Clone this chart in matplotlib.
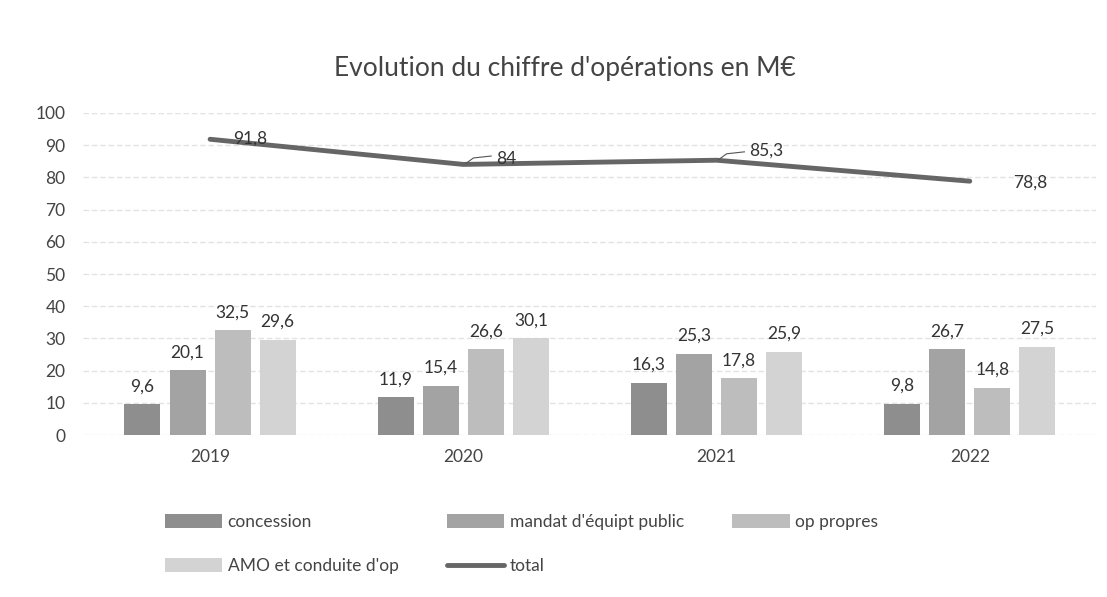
import matplotlib.pyplot as plt
import numpy as np

plt.rcParams['font.family'] = ['Lato', 'DejaVu Sans']

# Données (M€)
years = ['2019', '2020', '2021', '2022']
concession = [9.6, 11.9, 16.3, 9.8]
mandat = [20.1, 15.4, 25.3, 26.7]
op_propres = [32.5, 26.6, 17.8, 14.8]
amo = [29.6, 30.1, 25.9, 27.5]
total = [91.8, 84, 85.3, 78.8]

series = [
    ('concession', concession, '#8e8e8e'),
    ("mandat d'équipt public", mandat, '#a3a3a3'),
    ('op propres', op_propres, '#bdbdbd'),
    ("AMO et conduite d'op", amo, '#d3d3d3'),
]

fig = plt.figure(figsize=(11.07, 5.97), dpi=100)
ax = fig.add_axes([0.0754, 0.271, 0.915, 0.54])

x = np.arange(len(years))
width = 0.142
pitch = 0.178
handles = []
for i, (name, vals, col) in enumerate(series):
    offs = (i - 1.5) * pitch
    b = ax.bar(x + offs, vals, width, color=col, label=name, zorder=2)
    handles.append(b)
    for xi, v in zip(x + offs, vals):
        ax.text(xi, v + 3, f'{v}'.replace('.', ','), ha='center', va='bottom',
                fontsize=12.5, color='#333333')

ln, = ax.plot(x, total, color='#666666', lw=3.5, label='total', zorder=3,
              solid_capstyle='round')
handles.append(ln)

# étiquettes du total
lbl_off = [(0.09, 0.3), (0.13, 1.8), (0.13, 3.0), (0.17, -0.5)]
for xi, v, (dx, dy) in zip(x, total, lbl_off):
    txt = f'{v:g}'.replace('.', ',')
    ax.text(xi + dx, v + dy, txt, ha='left', va='center', fontsize=12.5,
            color='#333333', zorder=4)
# petits traits de rappel
for xi, v in zip(x[1:3], total[1:3]):
    ax.plot([xi + 0.01, xi + 0.04, xi + 0.11], [v + 0.3, v + 2.0, v + 2.6],
            color='#555555', lw=0.8, zorder=4)

ax.set_xlim(-0.5, len(years) - 0.5)
ax.set_ylim(0, 100)
ax.set_yticks(range(0, 101, 10))
ax.set_xticks(x)
ax.set_xticklabels(years)
ax.tick_params(length=0, labelsize=12.5, labelcolor='#444444')
ax.tick_params(axis='y', pad=13)
ax.tick_params(axis='x', pad=10)
ax.yaxis.grid(True, color='#e2e2e2', lw=1, ls=(0, (4, 2)))
ax.set_axisbelow(True)
for s in ax.spines.values():
    s.set_visible(False)

fig.text(0.51, 0.885, "Evolution du chiffre d'opérations en M€", ha='center',
         va='center', fontsize=19, color='#444444')

order = [0, 3, 1, 4, 2]
leg = fig.legend([handles[k] for k in order],
                 [handles[k].get_label() for k in order],
                 ncol=3, loc='upper left', bbox_to_anchor=(0.135, 0.165),
                 frameon=False, fontsize=12.5, handlelength=3.3,
                 handleheight=0.8, columnspacing=2.8, labelspacing=1.6,
                 handletextpad=0.3)
for t in leg.get_texts():
    t.set_color('#444444')

fig.savefig('out.png', dpi=100)
